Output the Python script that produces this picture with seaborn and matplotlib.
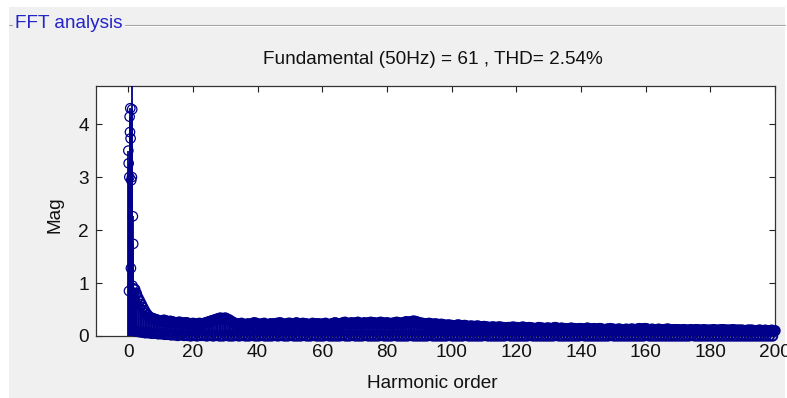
import numpy as np
import pandas as pd
import matplotlib
matplotlib.use("Agg")
import matplotlib.pyplot as plt
from matplotlib.patches import Rectangle
from matplotlib.lines import Line2D
import seaborn as sns

# ---------------- data ----------------
FUNDAMENTAL_HZ = 50
FUNDAMENTAL_MAG = 61
THD_PERCENT = 2.54

# fine-resolution bins around the fundamental (harmonic order, magnitude)
near_orders = [0.0, 0.1, 0.2, 0.3, 0.4, 0.5, 0.6, 0.7, 0.8, 0.9,
               1.0, 1.1, 1.2, 1.3, 1.4, 1.5, 1.6, 1.7, 1.8, 1.9]
near_mags = [3.50, 3.26, 0.85, 3.00, 4.14, 3.85, 4.30, 3.73, 1.28, 2.94,
             FUNDAMENTAL_MAG, 3.00, 4.28, 0.95, 2.26, 1.74, 0.90, 0.82, 0.78, 0.70]

# integer harmonic orders 2 .. 200
harmonic_orders = np.arange(2, 201)
harmonic_mags = [
    0.88, 0.72, 0.60, 0.48, 0.39, 0.34, 0.32, 0.30,
    0.29, 0.30, 0.27, 0.28, 0.26, 0.25, 0.26, 0.24, 0.25, 0.23,
    0.24, 0.22, 0.24, 0.23, 0.25, 0.27, 0.29, 0.31, 0.33, 0.32,
    0.34, 0.31, 0.27, 0.24, 0.22, 0.24, 0.21, 0.23, 0.22, 0.25,
    0.23, 0.22, 0.24, 0.21, 0.23, 0.22, 0.24, 0.25, 0.22, 0.23,
    0.24, 0.21, 0.25, 0.22, 0.24, 0.23, 0.21, 0.24, 0.22, 0.23,
    0.22, 0.24, 0.21, 0.23, 0.25, 0.22, 0.24, 0.26, 0.23, 0.25,
    0.24, 0.26, 0.23, 0.25, 0.24, 0.26, 0.25, 0.23, 0.26, 0.24,
    0.25, 0.23, 0.24, 0.26, 0.24, 0.25, 0.27, 0.26, 0.28, 0.27,
    0.25, 0.24, 0.23, 0.24, 0.22, 0.23, 0.21, 0.22, 0.20, 0.21,
    0.20, 0.19, 0.21, 0.19, 0.20, 0.18, 0.19, 0.18, 0.19, 0.17,
    0.18, 0.17, 0.16, 0.17, 0.16, 0.17, 0.16, 0.15, 0.16, 0.17,
    0.16, 0.15, 0.17, 0.15, 0.16, 0.15, 0.14, 0.16, 0.15, 0.14,
    0.15, 0.14, 0.16, 0.14, 0.15, 0.14, 0.13, 0.15, 0.14, 0.13,
    0.14, 0.13, 0.15, 0.13, 0.14, 0.13, 0.14, 0.12, 0.13, 0.14,
    0.13, 0.12, 0.13, 0.12, 0.13, 0.12, 0.13, 0.12, 0.14, 0.13,
    0.14, 0.12, 0.13, 0.12, 0.13, 0.12, 0.12, 0.13, 0.12, 0.12,
    0.12, 0.11, 0.12, 0.11, 0.12, 0.11, 0.12, 0.11, 0.12, 0.11,
    0.11, 0.12, 0.11, 0.11, 0.12, 0.11, 0.11, 0.12, 0.11, 0.11,
    0.11, 0.10, 0.11, 0.11, 0.10, 0.11, 0.10, 0.11, 0.10, 0.11,
    0.10,
]

# interharmonic bins midway between harmonics (orders 2.5 .. 199.5)
half_orders = np.arange(2.5, 200, 1.0)
half_mags = [
    0.80, 0.66, 0.54, 0.43, 0.36, 0.33, 0.31, 0.29,
    0.28, 0.29, 0.26, 0.27, 0.25, 0.26, 0.24, 0.25, 0.24, 0.23,
    0.23, 0.23, 0.22, 0.24, 0.26, 0.28, 0.30, 0.32, 0.34, 0.33,
    0.32, 0.29, 0.25, 0.23, 0.23, 0.22, 0.22, 0.22, 0.24, 0.24,
    0.22, 0.23, 0.22, 0.22, 0.23, 0.23, 0.24, 0.23, 0.22, 0.24,
    0.22, 0.23, 0.23, 0.23, 0.23, 0.22, 0.22, 0.23, 0.23, 0.22,
    0.23, 0.22, 0.22, 0.24, 0.23, 0.23, 0.25, 0.24, 0.24, 0.24,
    0.25, 0.24, 0.24, 0.24, 0.25, 0.25, 0.24, 0.25, 0.25, 0.24,
    0.24, 0.24, 0.25, 0.25, 0.24, 0.26, 0.26, 0.27, 0.28, 0.26,
    0.24, 0.23, 0.23, 0.23, 0.22, 0.22, 0.22, 0.21, 0.20, 0.20,
    0.19, 0.20, 0.20, 0.19, 0.19, 0.18, 0.18, 0.18, 0.18, 0.17,
    0.17, 0.16, 0.17, 0.16, 0.17, 0.16, 0.15, 0.16, 0.16, 0.16,
    0.15, 0.16, 0.16, 0.15, 0.15, 0.14, 0.15, 0.15, 0.14, 0.15,
    0.14, 0.15, 0.15, 0.14, 0.14, 0.13, 0.14, 0.14, 0.13, 0.14,
    0.13, 0.14, 0.14, 0.13, 0.13, 0.14, 0.13, 0.12, 0.13, 0.13,
    0.12, 0.13, 0.12, 0.12, 0.12, 0.13, 0.12, 0.13, 0.13, 0.14,
    0.13, 0.12, 0.12, 0.12, 0.12, 0.12, 0.13, 0.12, 0.12, 0.12,
    0.11, 0.12, 0.11, 0.11, 0.11, 0.12, 0.11, 0.11, 0.11, 0.11,
    0.11, 0.11, 0.11, 0.12, 0.11, 0.11, 0.11, 0.11, 0.11, 0.11,
    0.10, 0.11, 0.11, 0.10, 0.10, 0.11, 0.10, 0.10, 0.10, 0.10,
]

# low-level leakage bins (orders 2.25 .. 199.25)
floor_orders = np.arange(2.25, 200, 1.0)
floor_mags = [
    0.09, 0.08, 0.07, 0.06, 0.06, 0.05, 0.05, 0.04,
    0.04, 0.03, 0.03, 0.02, 0.02, 0.01, 0.02, 0.01, 0.01, 0.00,
    0.01, 0.00, 0.01, 0.01, 0.00, 0.01, 0.00, 0.01, 0.00, 0.00,
    0.01, 0.00, 0.00, 0.01, 0.00, 0.01, 0.00, 0.00, 0.01, 0.00,
    0.00, 0.01, 0.00, 0.00, 0.00, 0.01, 0.00, 0.01, 0.00, 0.00,
    0.01, 0.00, 0.00, 0.00, 0.01, 0.00, 0.00, 0.01, 0.00, 0.00,
    0.00, 0.01, 0.00, 0.00, 0.00, 0.00, 0.01, 0.00, 0.00, 0.01,
    0.00, 0.00, 0.00, 0.01, 0.00, 0.00, 0.00, 0.00, 0.01, 0.00,
    0.00, 0.00, 0.01, 0.00, 0.00, 0.00, 0.00, 0.01, 0.00, 0.00,
    0.00, 0.00, 0.00, 0.01, 0.00, 0.00, 0.00, 0.00, 0.00, 0.01,
    0.00, 0.00, 0.00, 0.00, 0.01, 0.00, 0.00, 0.00, 0.00, 0.00,
    0.01, 0.00, 0.00, 0.00, 0.00, 0.00, 0.00, 0.01, 0.00, 0.00,
    0.00, 0.00, 0.00, 0.00, 0.01, 0.00, 0.00, 0.00, 0.00, 0.00,
    0.00, 0.00, 0.01, 0.00, 0.00, 0.00, 0.00, 0.00, 0.00, 0.00,
    0.01, 0.00, 0.00, 0.00, 0.00, 0.00, 0.00, 0.00, 0.00, 0.01,
    0.00, 0.00, 0.00, 0.00, 0.00, 0.00, 0.00, 0.00, 0.00, 0.00,
    0.01, 0.00, 0.00, 0.00, 0.00, 0.00, 0.00, 0.00, 0.00, 0.00,
    0.00, 0.00, 0.00, 0.00, 0.01, 0.00, 0.00, 0.00, 0.00, 0.00,
    0.00, 0.00, 0.00, 0.00, 0.00, 0.00, 0.00, 0.00, 0.00, 0.00,
    0.00, 0.00, 0.00, 0.00, 0.00, 0.00, 0.00, 0.00, 0.00, 0.00,
]

x_ticks = [0, 20, 40, 60, 80, 100, 120, 140, 160, 180, 200]
y_ticks = [0, 1, 2, 3, 4]
X_LIM = (-10, 200)
Y_LIM = (0, 4.72)

# ---------------- style ----------------
sns.set_theme(style="ticks")
plt.rcParams["font.family"] = ["Liberation Sans", "DejaVu Sans"]

NAVY = "#00008b"
PANEL = "#f0f0f0"
FS = 13.7

W, H = 787, 398
fig = plt.figure(figsize=(W / 100, H / 100), dpi=100, facecolor="white")

# grey panel with a group-box rule along its top
fig.add_artist(Rectangle((9 / W, 0), (785 - 9) / W, (H - 7) / H,
                         transform=fig.transFigure, facecolor=PANEL,
                         edgecolor="none", zorder=-20))
fig.add_artist(Line2D([125 / W, 785 / W], [1 - 25 / H] * 2,
                      transform=fig.transFigure, color="#a0a0a0", lw=0.8))
fig.add_artist(Line2D([125 / W, 785 / W], [1 - 26.2 / H] * 2,
                      transform=fig.transFigure, color="white", lw=0.8))
fig.add_artist(Line2D([9 / W, 12 / W], [1 - 25 / H] * 2,
                      transform=fig.transFigure, color="#a0a0a0", lw=0.8))
fig.text(15 / W, 1 - 24 / H, "FFT analysis", ha="left", va="center",
         color="#2424c8", fontsize=FS)

ax = fig.add_axes([96 / W, (H - 336) / H, (775 - 96) / W, (336 - 86) / H])
ax.set_facecolor("white")
ax.set_axisbelow(True)

near = pd.DataFrame({"order": near_orders, "mag": near_mags})
body = pd.concat([
    pd.DataFrame({"order": harmonic_orders, "mag": harmonic_mags}),
    pd.DataFrame({"order": half_orders, "mag": half_mags}),
    pd.DataFrame({"order": floor_orders, "mag": floor_mags}),
], ignore_index=True)

# stems
ax.vlines(near["order"], 0, near["mag"], color=NAVY, lw=1.3, zorder=3)
ax.vlines(body["order"], 0, body["mag"], color=NAVY, lw=1.8, zorder=3)

# open circle heads (heads above the y range are not drawn)
near_vis = near[near["mag"] <= Y_LIM[1]]
sns.scatterplot(x=near_vis["order"], y=near_vis["mag"], ax=ax, s=46,
                marker="o", facecolors="none", edgecolor=NAVY,
                linewidth=0.9, clip_on=False, zorder=4, legend=False)
sns.scatterplot(x=body["order"], y=body["mag"], ax=ax, s=46,
                marker="o", facecolors="none", edgecolor=NAVY,
                linewidth=1.4, clip_on=False, zorder=4, legend=False)

ax.set_xlim(*X_LIM)
ax.set_ylim(*Y_LIM)
ax.set_xticks(x_ticks)
ax.set_yticks(y_ticks)
ax.set_xlabel("")
ax.set_ylabel("")
ax.tick_params(direction="in", top=True, right=True, length=4.5, width=0.8,
               color="#222222", labelsize=FS, labelcolor="#111111")
ax.tick_params(axis="x", pad=6)
ax.tick_params(axis="y", pad=5)
for sp in ax.spines.values():
    sp.set_visible(True)
    sp.set_color("#333333")
    sp.set_linewidth(0.9)
    sp.set_zorder(2)

ax.text(0.496, 1.104,
        f"Fundamental ({FUNDAMENTAL_HZ}Hz) = {FUNDAMENTAL_MAG} , THD= {THD_PERCENT:.2f}%",
        transform=ax.transAxes, ha="center", va="center", fontsize=FS,
        color="#111111")
ax.text(0.496, -0.192, "Harmonic order", transform=ax.transAxes,
        ha="center", va="center", fontsize=FS, color="#111111")
ax.text(-0.0604, 0.484, "Mag", transform=ax.transAxes, rotation=90,
        ha="center", va="center", fontsize=FS, color="#111111")

fig.savefig("out.png", dpi=100, facecolor=fig.get_facecolor())
